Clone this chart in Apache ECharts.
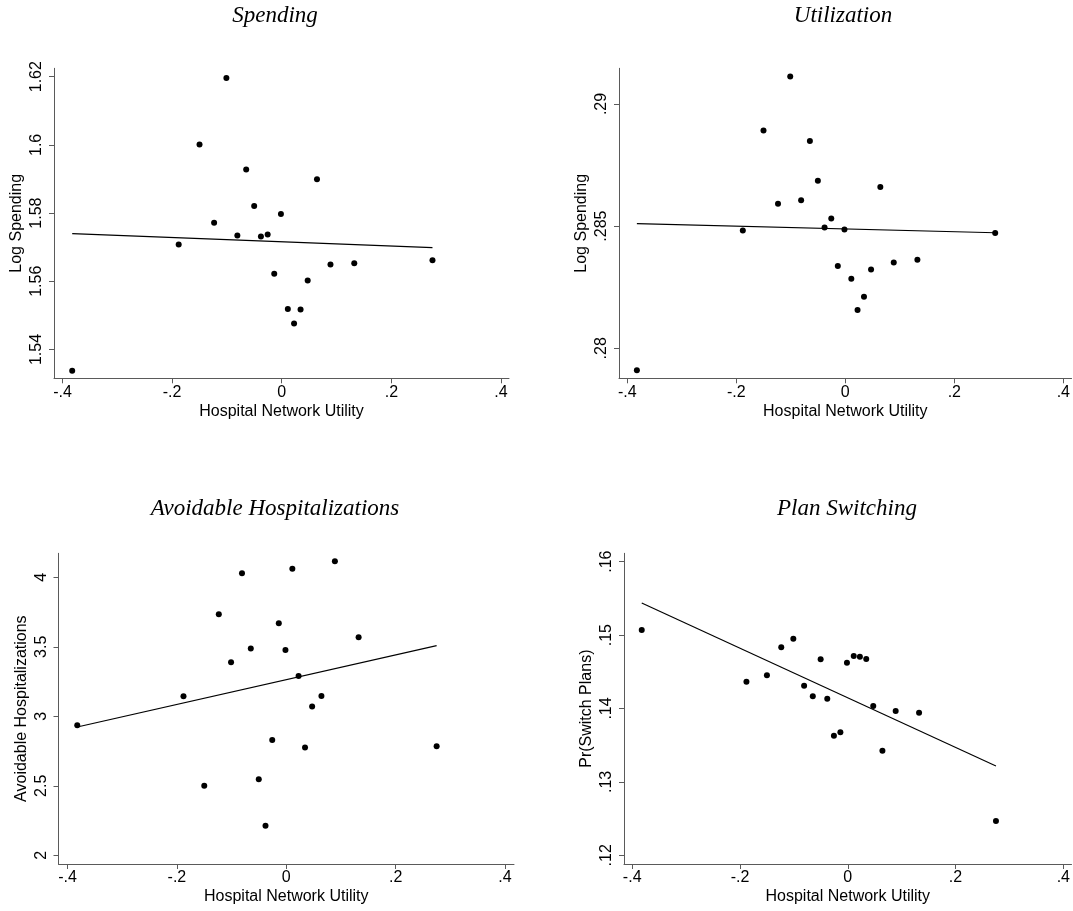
<!DOCTYPE html>
<html>
<head>
<meta charset="utf-8">
<script src="https://cdn.jsdelivr.net/npm/echarts@6/dist/echarts.min.js"></script>
<style>
html,body{margin:0;padding:0;background:#fff;}
#chart{width:1073px;height:911px;}
</style>
</head>
<body>
<div id="chart"></div>
<script>
// ---- Data ----
const xUtility = [-0.3823, -0.188, -0.150, -0.1234, -0.101, -0.081, -0.0649, -0.0503, -0.038, -0.0257,
                  -0.0137, -0.0015, 0.0111, 0.0225, 0.0343, 0.0473, 0.0643, 0.0889, 0.1323, 0.275];
const spending = [1.5338, 1.5708, 1.6001, 1.5772, 1.6196, 1.5734, 1.5928, 1.5821, 1.5731, 1.5737,
                  1.5622, 1.5797, 1.5519, 1.5476, 1.5517, 1.5602, 1.5899, 1.5649, 1.5653, 1.5662];
const utilization = [0.2791, 0.28482, 0.28892, 0.28592, 0.29113, 0.28606, 0.28849, 0.28686, 0.28494, 0.28531,
                     0.28337, 0.28486, 0.28285, 0.28157, 0.28211, 0.28323, 0.2866, 0.28351, 0.28362, 0.28472];
const avoidable = [2.935, 3.144, 2.501, 3.734, 3.388, 4.029, 3.487, 2.547, 2.213, 2.830,
                   3.669, 3.477, 4.062, 3.290, 2.775, 3.070, 3.146, 4.115, 3.568, 2.784];
const switching = [0.15069, 0.14365, 0.14452, 0.14833, 0.14951, 0.14311, 0.14166, 0.1467, 0.14134, 0.1363,
                   0.13675, 0.14624, 0.14715, 0.14706, 0.14674, 0.14034, 0.13426, 0.13966, 0.13943, 0.12468];

const fitX = [-0.3823, 0.275];
const fitSpending = [1.5740, 1.5699];
const fitUtilization = [0.28510, 0.28473];
const fitAvoidable = [2.923, 3.508];
const fitSwitching = [0.15437, 0.13217];

const panelTitles = ['Spending', 'Utilization', 'Avoidable Hospitalizations', 'Plan Switching'];
const yNames = ['Log Spending', 'Log Spending', 'Avoidable Hospitalizations', 'Pr(Switch Plans)'];
const xName = 'Hospital Network Utility';

const xTickValues = [-0.4, -0.2, 0, 0.2, 0.4];
const xTickLabels = ['-.4', '-.2', '0', '.2', '.4'];
const yTickValues = [
  [1.54, 1.56, 1.58, 1.60, 1.62],
  [0.28, 0.285, 0.29],
  [2, 2.5, 3, 3.5, 4],
  [0.12, 0.13, 0.14, 0.15, 0.16]
];
const yTickLabels = [
  ['1.54', '1.56', '1.58', '1.6', '1.62'],
  ['.28', '.285', '.29'],
  ['2', '2.5', '3', '3.5', '4'],
  ['.12', '.13', '.14', '.15', '.16']
];

// ---- Layout ----
const grids = [
  {left: 54, top: 68.3, width: 455, height: 310},
  {left: 619, top: 68.3, width: 455.3, height: 310},
  {left: 58.5, top: 553.3, width: 455.5, height: 310.7},
  {left: 624, top: 553.3, width: 454.3, height: 310.7}
];
const xRanges = [[-0.4155, 0.4146], [-0.4151, 0.4151], [-0.4166, 0.4165], [-0.4152, 0.4152]];
const yRanges = [[1.53155, 1.62246], [0.278772, 0.291461], [1.9374, 4.1727], [0.118815, 0.161144]];
const titlePos = [[270, -1], [838, -1], [270, 492], [842, 492]];

const yValues = [spending, utilization, avoidable, switching];
const fitValues = [fitSpending, fitUtilization, fitAvoidable, fitSwitching];

const axisColor = '#5a5a5a';
const labelFont = 'Liberation Sans, Arial, sans-serif';

function lookup(vals, labels, v) {
  for (let i = 0; i < vals.length; i++) if (Math.abs(vals[i] - v) < 1e-9) return labels[i];
  return '';
}

const option = {
  animation: false,
  backgroundColor: '#fff',
  title: panelTitles.map((t, i) => ({
    text: t,
    left: titlePos[i][0],
    top: titlePos[i][1],
    textAlign: 'center',
    textStyle: {fontFamily: 'Liberation Serif, serif', fontStyle: 'italic', fontWeight: 'normal', fontSize: 23, color: '#000'}
  })),
  grid: grids.map(g => Object.assign({containLabel: false}, g)),
  xAxis: grids.map((g, i) => ({
    type: 'value', gridIndex: i,
    min: xRanges[i][0], max: xRanges[i][1],
    name: xName, nameLocation: 'middle', nameGap: 25,
    nameTextStyle: {fontFamily: labelFont, fontSize: 16, color: '#000'},
    axisLine: {show: true, onZero: false, lineStyle: {color: axisColor, width: 1}},
    axisTick: {show: true, length: 5, customValues: xTickValues, lineStyle: {color: axisColor}},
    axisLabel: {show: true, customValues: xTickValues, margin: 6, fontFamily: labelFont, fontSize: 16, color: '#000',
      formatter: v => lookup(xTickValues, xTickLabels, v)},
    splitLine: {show: false}
  })),
  yAxis: grids.map((g, i) => ({
    type: 'value', gridIndex: i,
    min: yRanges[i][0], max: yRanges[i][1],
    name: yNames[i], nameLocation: 'middle', nameGap: 29,
    nameTextStyle: {fontFamily: labelFont, fontSize: 16, color: '#000'},
    axisLine: {show: true, onZero: false, lineStyle: {color: axisColor, width: 1}},
    axisTick: {show: true, length: 5, customValues: yTickValues[i], lineStyle: {color: axisColor}},
    axisLabel: {show: true, customValues: yTickValues[i], rotate: 90, margin: 9, fontFamily: labelFont, fontSize: 16, color: '#000',
      formatter: v => lookup(yTickValues[i], yTickLabels[i], v)},
    splitLine: {show: false}
  })),
  series: []
};

for (let i = 0; i < 4; i++) {
  option.series.push({
    type: 'scatter', xAxisIndex: i, yAxisIndex: i,
    symbol: 'circle', symbolSize: 6,
    itemStyle: {color: '#000', opacity: 1},
    data: xUtility.map((x, k) => [x, yValues[i][k]]),
    silent: true
  });
  option.series.push({
    type: 'line', xAxisIndex: i, yAxisIndex: i,
    showSymbol: false, symbol: 'none',
    lineStyle: {color: '#000', width: 1.2},
    data: fitX.map((x, k) => [x, fitValues[i][k]]),
    silent: true
  });
}

const chart = echarts.init(document.getElementById('chart'), null, {renderer: 'canvas'});
chart.setOption(option);
</script>
</body>
</html>
